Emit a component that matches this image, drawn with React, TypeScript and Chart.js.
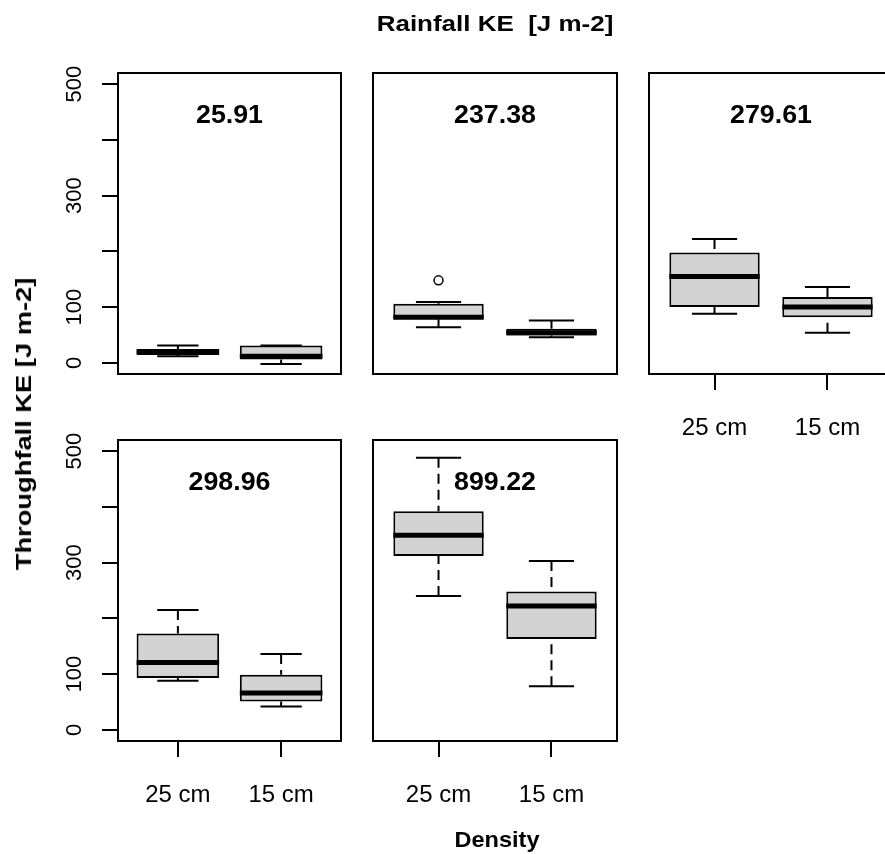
import React, { useEffect, useRef } from 'react';
import { Chart, registerables } from 'chart.js';

Chart.register(...registerables);

// ---------------- data ----------------
const DENSITY = ['25 cm', '15 cm'];
const RAINFALL_KE = ['25.91', '237.38', '279.61', '298.96', '899.22'];
// each row = one panel, values for [25 cm, 15 cm]
const WHISKER_LOW = [[12, -2], [64, 46], [88, 54], [88, 42], [240, 78]];
const Q1 = [[14, 6], [78, 49], [100, 82], [93, 51], [312, 163]];
const MEDIAN = [[20, 12], [82, 54], [155, 100], [121, 66], [349, 222]];
const Q3 = [[25, 31], [106, 61], [198, 118], [173, 99], [392, 248]];
const WHISKER_HIGH = [[31, 31], [109, 76], [222, 136], [215, 136], [488, 303]];
const OUTLIERS: number[][][] = [[[], []], [[148], []], [[], []], [[], []], [[], []]];
const Y_TICKS = [0, 100, 200, 300, 400, 500];
const Y_TICK_LABELS = ['0', '100', '', '300', '', '500'];

// ---------------- layout / style ----------------
const CANVAS_W = 900;
const CANVAS_H = 854;
const Y_AXIS_W = 70;
const X_AXIS_H = 80;
const PANELS = [
  { left: 118, right: 341, top: 73, bottom: 374, yAxis: true, xAxis: false },
  { left: 373, right: 617, top: 73, bottom: 374, yAxis: false, xAxis: false },
  { left: 649, right: 893, top: 73, bottom: 374, yAxis: false, xAxis: true },
  { left: 118, right: 341, top: 440, bottom: 741, yAxis: true, xAxis: true },
  { left: 373, right: 617, top: 440, bottom: 741, yAxis: false, xAxis: true },
];
const FONT = '"Liberation Sans", Arial, Helvetica, sans-serif';
const BOX_HALF = 0.4;
const STAPLE_HALF = 0.2;
const LABEL_X = 1.5;
const LABEL_Y = 443;

const framePlugin = {
  id: 'panelFrame',
  afterDatasetsDraw(chart: any, _args: any, opts: any) {
    const { ctx, chartArea: a } = chart;
    ctx.save();
    ctx.strokeStyle = '#000';
    ctx.lineWidth = 2;
    ctx.strokeRect(a.left, a.top, a.right - a.left, a.bottom - a.top);
    const x = chart.scales.x.getPixelForValue(LABEL_X);
    const y = chart.scales.y.getPixelForValue(LABEL_Y);
    ctx.translate(x, y);
    ctx.scale(1.07, 1);
    ctx.font = `bold 25px ${FONT}`;
    ctx.textAlign = 'center';
    ctx.textBaseline = 'middle';
    ctx.fillStyle = '#000';
    ctx.fillText(opts.text, 0, 0);
    ctx.restore();
  },
};

function Panel({ index }: { index: number }) {
  const ref = useRef<HTMLCanvasElement>(null);
  useEffect(() => {
    const p = PANELS[index];
    const boxes: any[] = [];
    const whiskers: any[] = [];
    const staples: any[] = [];
    const medians: any[] = [];
    const outliers: any[] = [];
    DENSITY.forEach((_, g) => {
      const x = g + 1;
      const lo = WHISKER_LOW[index][g];
      const q1 = Q1[index][g];
      const med = MEDIAN[index][g];
      const q3 = Q3[index][g];
      const hi = WHISKER_HIGH[index][g];
      boxes.push({ x, y: [q1, q3] });
      whiskers.push({ x, y: hi }, { x, y: q3 }, { x, y: null }, { x, y: lo }, { x, y: q1 }, { x, y: null });
      staples.push(
        { x: x - STAPLE_HALF, y: hi }, { x: x + STAPLE_HALF, y: hi }, { x, y: null },
        { x: x - STAPLE_HALF, y: lo }, { x: x + STAPLE_HALF, y: lo }, { x, y: null }
      );
      medians.push({ x: x - BOX_HALF, y: med }, { x: x + BOX_HALF, y: med }, { x, y: null });
      OUTLIERS[index][g].forEach((v) => outliers.push({ x, y: v }));
    });

    const tickFont = { family: FONT, size: 24 };
    const chart = new Chart(ref.current as HTMLCanvasElement, {
      type: 'bar',
      data: {
        datasets: [
          {
            type: 'line',
            data: medians,
            borderColor: '#000',
            borderWidth: 5,
            borderCapStyle: 'butt',
            pointRadius: 0,
            spanGaps: false,
            order: 0,
          } as any,
          {
            type: 'line',
            data: outliers,
            showLine: false,
            pointRadius: 4.5,
            pointBorderWidth: 1.5,
            pointBorderColor: '#000',
            pointBackgroundColor: 'rgba(0,0,0,0)',
            order: 1,
          } as any,
          {
            type: 'bar',
            data: boxes,
            backgroundColor: '#d3d3d3',
            borderColor: '#000',
            borderWidth: 2,
            borderSkipped: false,
            barPercentage: 0.8,
            categoryPercentage: 1,
            order: 2,
          } as any,
          {
            type: 'line',
            data: staples,
            borderColor: '#000',
            borderWidth: 2,
            pointRadius: 0,
            spanGaps: false,
            order: 3,
          } as any,
          {
            type: 'line',
            data: whiskers,
            borderColor: '#000',
            borderWidth: 2,
            borderDash: [10, 6],
            pointRadius: 0,
            spanGaps: false,
            order: 4,
          } as any,
        ],
      },
      options: {
        responsive: false,
        animation: false,
        devicePixelRatio: 1,
        events: [],
        layout: {
          padding: {
            left: p.left - (p.yAxis ? Y_AXIS_W : 0),
            right: CANVAS_W - p.right,
            top: p.top,
            bottom: CANVAS_H - p.bottom - (p.xAxis ? X_AXIS_H : 0),
          },
        },
        plugins: {
          legend: { display: false },
          tooltip: { enabled: false },
          title: { display: false },
          panelFrame: { text: RAINFALL_KE[index] },
        } as any,
        scales: {
          x: {
            type: 'linear',
            display: p.xAxis,
            min: 0.42,
            max: 2.58,
            offset: false,
            afterBuildTicks: (s: any) => {
              s.ticks = DENSITY.map((_, i) => ({ value: i + 1 }));
            },
            afterFit: (s: any) => {
              s.height = p.xAxis ? X_AXIS_H : 0;
            },
            ticks: {
              autoSkip: false,
              minRotation: 0,
              maxRotation: 0,
              padding: 24,
              color: '#000',
              font: tickFont,
              callback: (v: any) => DENSITY[Math.round(Number(v)) - 1] ?? '',
            },
            grid: {
              offset: false,
              drawOnChartArea: false,
              drawTicks: true,
              tickLength: 16,
              color: '#000',
              lineWidth: 2,
            },
            border: { display: false },
          },
          y: {
            type: 'linear',
            display: p.yAxis,
            min: -20,
            max: 520,
            afterBuildTicks: (s: any) => {
              s.ticks = Y_TICKS.map((v) => ({ value: v }));
            },
            afterFit: (s: any) => {
              s.width = p.yAxis ? Y_AXIS_W : 0;
            },
            ticks: {
              autoSkip: false,
              minRotation: 90,
              maxRotation: 90,
              crossAlign: 'center',
              padding: 9,
              color: '#000',
              font: { family: FONT, size: 22 },
              callback: (v: any) => {
                const i = Y_TICKS.indexOf(Number(v));
                return i >= 0 ? Y_TICK_LABELS[i] : '';
              },
            },
            grid: {
              drawOnChartArea: false,
              drawTicks: true,
              tickLength: 16,
              color: '#000',
              lineWidth: 2,
            },
            border: { display: false },
          },
        },
      } as any,
      plugins: [framePlugin as any],
    });
    return () => chart.destroy();
  }, [index]);

  return (
    <canvas
      ref={ref}
      width={CANVAS_W}
      height={CANVAS_H}
      style={{ position: 'absolute', left: 0, top: 0, width: CANVAS_W, height: CANVAS_H }}
    />
  );
}

const titleStyle: React.CSSProperties = {
  position: 'absolute',
  fontFamily: FONT,
  fontWeight: 'bold',
  fontSize: 22,
  lineHeight: '22px',
  whiteSpace: 'pre',
  color: '#000',
};

export default function App() {
  return (
    <div
      style={{
        position: 'absolute',
        left: 0,
        top: 0,
        width: 885,
        height: 854,
        overflow: 'hidden',
        background: '#fff',
      }}
    >
      {PANELS.map((_, i) => (
        <Panel key={i} index={i} />
      ))}
      <div style={{ ...titleStyle, left: 495, top: 23.5, transform: 'translate(-50%, -50%) scaleX(1.18)' }}>
        Rainfall KE  [J m-2]
      </div>
      <div
        style={{
          ...titleStyle,
          left: 24,
          top: 424,
          transform: 'translate(-50%, -50%) rotate(-90deg) scaleX(1.24)',
        }}
      >
        Throughfall KE [J m-2]
      </div>
      <div style={{ ...titleStyle, left: 497, top: 840, transform: 'translate(-50%, -50%) scaleX(1.07)' }}>
        Density
      </div>
    </div>
  );
}
